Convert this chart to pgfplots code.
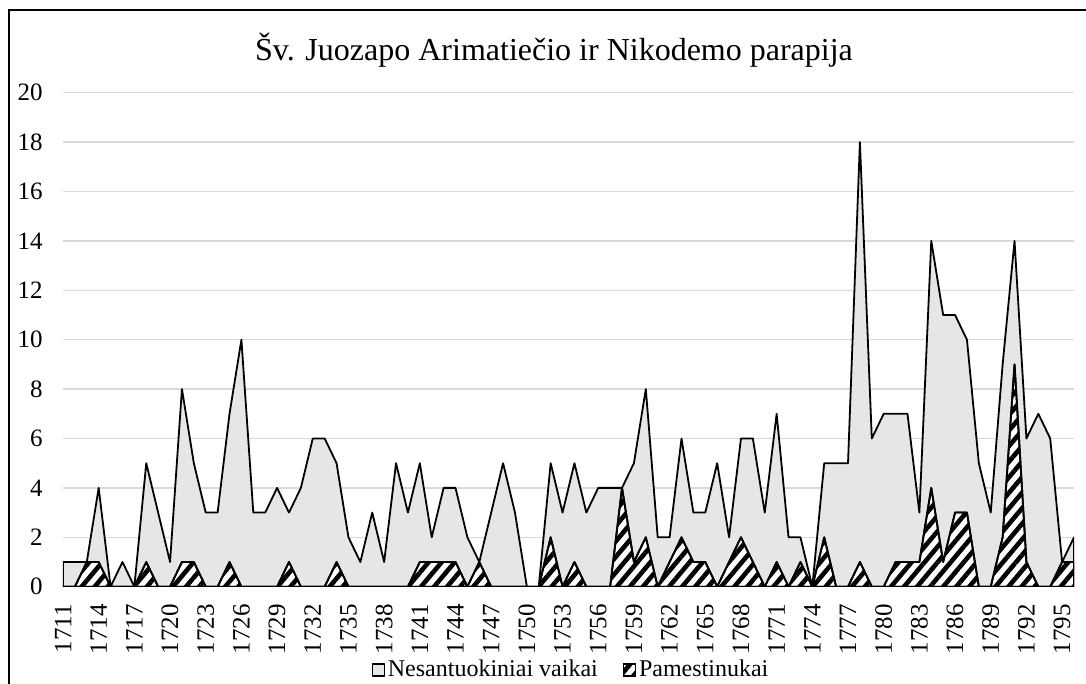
\documentclass[border=0pt]{standalone}
\usepackage{fontspec}
\setmainfont{Liberation Serif}
\usepackage{pgfplots}
\usepackage{pgfplotstable}
\pgfplotsset{compat=1.18}
\usetikzlibrary{patterns.meta}
\definecolor{areagray}{RGB}{230,230,230}
\definecolor{gridgray}{RGB}{217,217,217}
\definecolor{axisgray}{RGB}{191,191,191}

\pgfplotstableread{
year a b
1711 1 0
1712 1 0
1713 1 1
1714 4 1
1715 0 0
1716 1 0
1717 0 0
1718 5 1
1719 3 0
1720 1 0
1721 8 1
1722 5 1
1723 3 0
1724 3 0
1725 7 1
1726 10 0
1727 3 0
1728 3 0
1729 4 0
1730 3 1
1731 4 0
1732 6 0
1733 6 0
1734 5 1
1735 2 0
1736 1 0
1737 3 0
1738 1 0
1739 5 0
1740 3 0
1741 5 1
1742 2 1
1743 4 1
1744 4 1
1745 2 0
1746 1 1
1747 3 0
1748 5 0
1749 3 0
1750 0 0
1751 0 0
1752 5 2
1753 3 0
1754 5 1
1755 3 0
1756 4 0
1757 4 0
1758 4 4
1759 5 1
1760 8 2
1761 2 0
1762 2 1
1763 6 2
1764 3 1
1765 3 1
1766 5 0
1767 2 1
1768 6 2
1769 6 1
1770 3 0
1771 7 1
1772 2 0
1773 2 1
1774 0 0
1775 5 2
1776 5 0
1777 5 0
1778 18 1
1779 6 0
1780 7 0
1781 7 1
1782 7 1
1783 3 1
1784 14 4
1785 11 1
1786 11 3
1787 10 3
1788 5 0
1789 3 0
1790 9 2
1791 14 9
1792 6 1
1793 7 0
1794 6 0
1795 1 1
1796 2 1
}\datatable

\begin{document}
\begin{tikzpicture}
\path[use as bounding box] (0pt,0pt) rectangle (543pt,342pt);
\draw[line width=1pt] (4.5pt,-2pt) -- (4.5pt,337pt) -- (545pt,337pt);
\node[anchor=base, inner sep=0pt, font=\fontsize{16}{19}\selectfont] at (277pt,311.5pt) {Šv. Juozapo Arimatiečio ir Nikodemo parapija};
\begin{axis}[
  at={(31.5pt,48.65pt)}, anchor=south west,
  scale only axis, width=505.5pt, height=247pt,
  xmin=1711, xmax=1796, ymin=0, ymax=20,
  axis x line=bottom, axis y line=left,
  y axis line style={draw=none},
  x axis line style={axisgray, line width=0.75pt, -},
  major tick length=0pt,
  ytick={0,2,...,20},
  xtick={1711,1714,...,1795},
  ymajorgrids, grid style={gridgray, line width=0.75pt},
  /pgf/number format/1000 sep={},
  /pgf/number format/assume math mode=true,
  xticklabel style={rotate=90, anchor=east, inner sep=0pt, font=\fontsize{12.5}{14}\selectfont},
  yticklabel style={anchor=east, inner sep=0pt, font=\fontsize{12.5}{14}\selectfont},
  xticklabel shift=8.5pt,
  yticklabel shift=10pt,
  legend style={at={(0.503,-0.1686)}, anchor=center, draw=none, fill=none,
    legend columns=2, font=\fontsize{12}{14}\selectfont,
    nodes={inner xsep=1.5pt},
    /tikz/every even column/.append style={column sep=11pt}},
  legend image code/.code={\draw[#1,line width=0.6pt] (0pt,-3pt) rectangle (6pt,3pt);},
]
\addplot[draw=black, line width=0.9pt, line join=round, fill=areagray] table[x=year,y=a]{\datatable} \closedcycle;
\addlegendentry{Nesantuokiniai vaikai}
\addplot[draw=black, line width=0.9pt, line join=round, preaction={fill=white}, pattern={Lines[angle=50,distance=5pt,line width=2.3pt]}, pattern color=black] table[x=year,y=b]{\datatable} \closedcycle;
\addlegendentry{Pamestinukai}
\end{axis}
\end{tikzpicture}
\end{document}
